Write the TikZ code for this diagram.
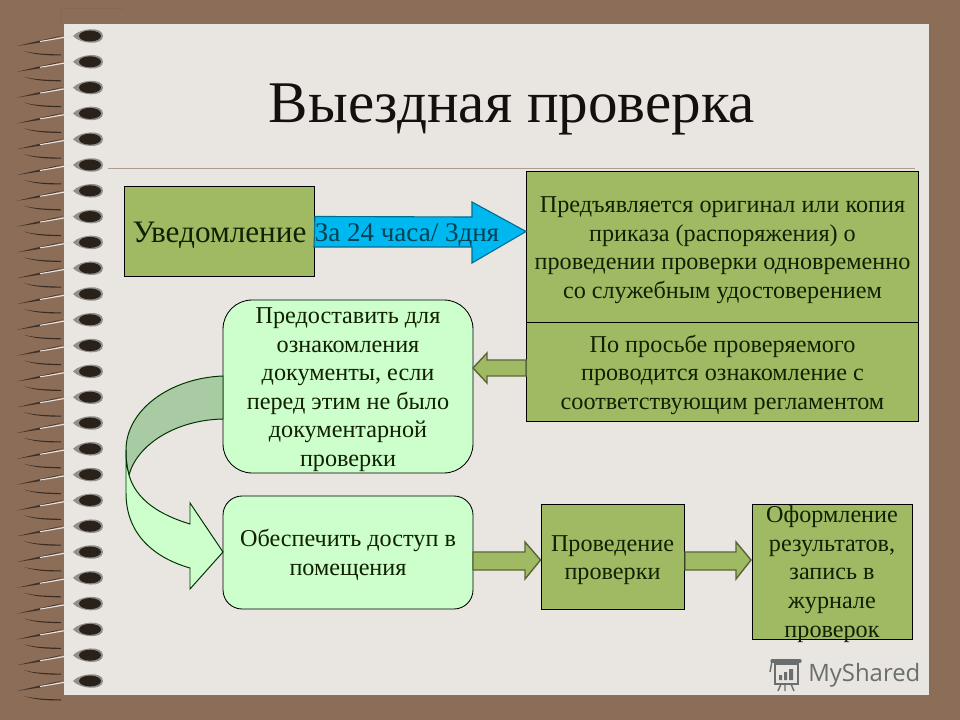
\documentclass[tikz,border=0pt]{standalone}
\usepackage{fontspec}
\setmainfont{Liberation Serif}
\newfontfamily\logofont{Open Sans}
\usetikzlibrary{positioning}
\definecolor{wood}{HTML}{8C6D58}
\definecolor{sheet}{HTML}{E9E5E1}
\definecolor{olive}{HTML}{A0BA64}
\definecolor{mint}{HTML}{CCFFCC}
\definecolor{darkmint}{HTML}{A8CBA4}
\definecolor{sky}{HTML}{00B8F0}
\definecolor{inktxt}{HTML}{102000}
\definecolor{logogray}{HTML}{6A6F6E}
\newcommand{\lift}{\rule{0pt}{16pt}}
\tikzset{
  olivebox/.style={draw=black, line width=0.7pt, fill=olive, inner sep=0pt, align=center, text=inktxt, font=\fontsize{17.2}{20.3}\selectfont},
  mintbox/.style={olivebox, line width=0.6pt, fill=mint},
  oarrow/.style={draw=olive!55!black, fill=olive, line width=1pt},
  curve/.style={draw=black!80!green, line width=0.7pt}
}
\begin{document}
\begin{tikzpicture}[x=0.025cm,y=-0.025cm]
       \useasboundingbox (0,0) rectangle (960,720);
       \fill[wood] (0,0) rectangle (960,720);
       \fill[sheet] (64,24) rectangle (929,695);
       \draw[wood!85!black, opacity=.25] (60,24) -- (60,8) -- (124,8);
       \draw[wood!60!sheet, line width=0.6pt] (108,168) -- (915,168);
       % the rings
       \foreach \y in {0,...,25} {
         \fill[black!55!wood] (17,{46+25.8*\y}) -- (40,{40.5+25.8*\y}) -- (63,{35.5+25.8*\y}) -- (40,{42.5+25.8*\y}) -- cycle;
         \fill[black!60!wood] (24,{51+25.8*\y}) .. controls (35,{54+25.8*\y}) and (48,{54+25.8*\y}) .. (61,{54.5+25.8*\y}) -- (61,{55.5+25.8*\y}) .. controls (48,{55.5+25.8*\y}) and (35,{55+25.8*\y}) .. cycle;
         \draw[white!80!wood, line width=0.8pt] (40,{41.5+25.8*\y}) -- (78,{35+25.8*\y});
         \fill[black!38!sheet] (73,{36+25.8*\y}) .. controls (80,{28+25.8*\y}) and (103,{26+25.8*\y}) .. (103,{36+25.8*\y}) .. controls (103,{46+25.8*\y}) and (80,{44+25.8*\y}) .. cycle;
         \fill[black!70!wood] (90,{36+25.8*\y}) ellipse (11 and 5.5);
       }
       \node[font=\fontsize{42}{50}\selectfont, text=black!85!wood] (title) at (512,109) {Выездная проверка};
       % upper row
       \node[olivebox, minimum width=190*0.711pt, minimum height=91*0.711pt, font=\fontsize{22.2}{26}\selectfont] (notice) at (219.5,231.5) {\rule{0pt}{20pt}Уведомление};
       \node[olivebox, minimum width=392*0.711pt, minimum height=151*0.711pt] (order) at (722.5,247) {\lift Предъявляется оригинал или копия\\приказа (распоряжения) о\\проведении проверки одновременно\\со служебным удостоверением};
       \node[olivebox, minimum width=392*0.711pt, minimum height=99*0.711pt] (rules) at (722.5,372) {\lift По просьбе проверяемого\\проводится ознакомление с\\соответствующим регламентом};
       \coordinate (tip) at (order.west |- notice.east);
       \draw[draw=sky!60!black, fill=sky, line width=0.8pt] (notice.east) ++(0,-15) -- (472,217) -- (472,202) -- (tip) -- (472,263) -- (472,247) -- (314,247) -- cycle;
       \node[font=\fontsize{19.2}{22}\selectfont, text=sky!35!black] (term) at (407,235) {За 24 часа/ 3дня};
       % middle and lower row
       \node[mintbox, rounded corners=29*0.711pt, minimum width=250*0.711pt, minimum height=173*0.711pt] (docs) at (348,386.5) {\lift Предоставить для\\ознакомления\\документы, если\\перед этим не было\\документарной\\проверки};
       \node[mintbox, rounded corners=19*0.711pt, minimum width=250*0.711pt, minimum height=113*0.711pt] (access) at (348,552.5) {\lift Обеспечить доступ в\\помещения};
       \node[olivebox, minimum width=143*0.711pt, minimum height=106*0.711pt] (check) at (612.5,557) {\lift Проведение\\проверки};
       \node[olivebox, minimum width=160*0.711pt, minimum height=136*0.711pt, text height=94.6pt, text depth=2.1pt] (result) at (832,572) {Оформление\\результатов,\\запись в\\журнале\\проверок};
       \draw[oarrow] (rules.west |- 0,360) -- (487,360) -- (487,353) -- (473,368) -- (487,383) -- (487,376) -- (rules.west |- 0,376) -- cycle;
       \draw[oarrow] (473,552) -- (525,552) -- (525,542) -- (check.west |- 0,560) -- (525,579) -- (525,570) -- (473,570) -- cycle;
       \draw[oarrow] (685,552) -- (736,552) -- (736,542) -- (751,560) -- (736,579) -- (736,570) -- (685,570) -- cycle;
       % curved arrow
       \draw[curve, fill=darkmint] (223,376) .. controls (170,378) and (126,410) .. (126,450) .. controls (126,460) and (127,468) .. (129,475) .. controls (137,445) and (175,420) .. (223,419) -- cycle;
       \draw[curve, fill=mint] (126,450) -- (126,493) .. controls (126,535) and (155,558) .. (190,568) -- (190,589) -- (223,552) -- (190,503) -- (190,524) .. controls (160,515) and (136,500) .. (129,475) .. controls (127,468) and (126,460) .. (126,450) -- cycle;
       % logo
       \node[font=\logofont\fontsize{17}{20}\selectfont, text=logogray, anchor=west, inner sep=0pt] (logo) at (808,675) {MyShared};
       \draw[logogray, line width=1.3pt] (775,664) rectangle (798,684);
       \draw[logogray, line width=2.4pt, line cap=round] (772,661) -- (800,661);
       \draw[logogray, line width=1pt] (770,672) -- (772,661);
       \fill[logogray] (779,675) rectangle (782,680) (784,672) rectangle (787,680) (789,669) rectangle (793,680);
       \draw[logogray, line width=1pt] (781,684) -- (778,691) (785,684) -- (785,691) (791,684) -- (794,691);
\end{tikzpicture}
\end{document}
